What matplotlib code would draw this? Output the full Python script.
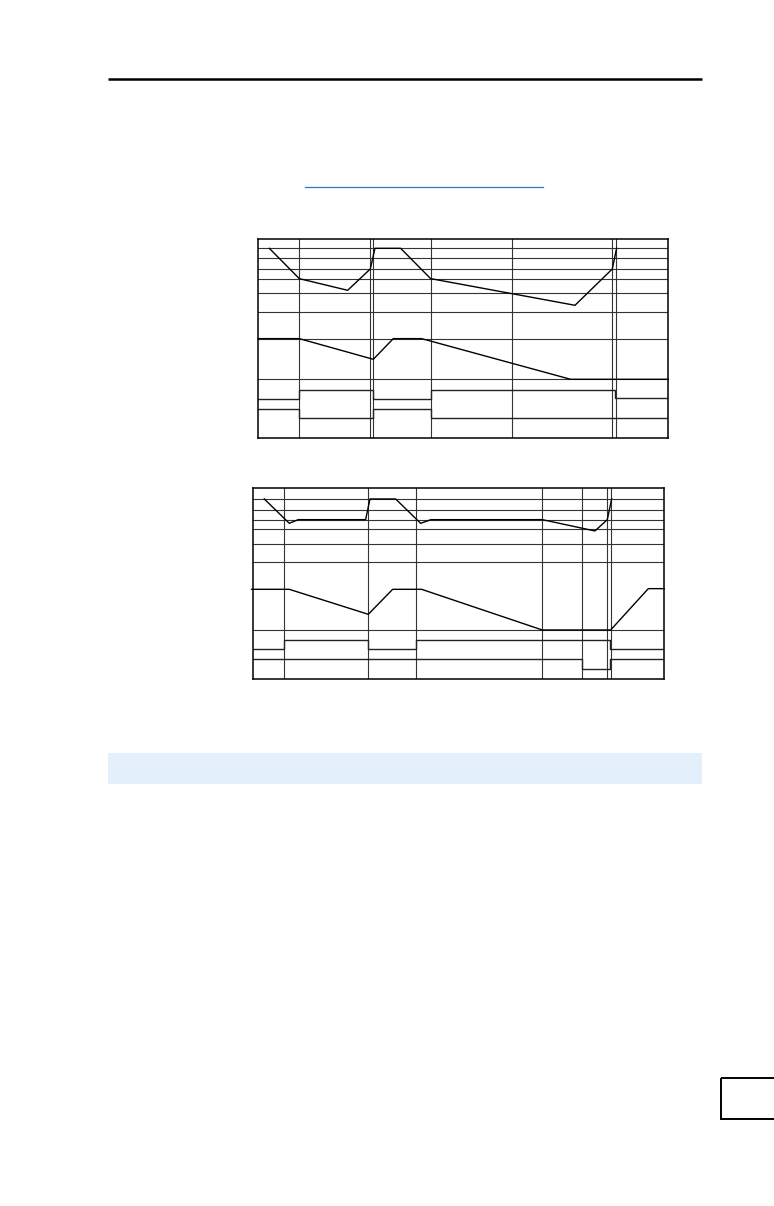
import matplotlib
matplotlib.use('Agg')
import matplotlib.pyplot as plt
from matplotlib.patches import Rectangle

# --- page size (pixels) ---
W, H = 774, 1206

# --- chart 1 : timing diagram (time units / level units) ---
c1_hgrid = [55, 85, 117, 148, 190, 245, 326, 448]
c1_vgrid = [148, 361, 370, 542, 785, 1087, 1097]
c1_wave_a_t = [58, 148, 293, 361, 375, 452, 542, 975, 1087, 1100]
c1_wave_a_v = [55, 146, 181, 117, 55, 55, 146, 226, 117, 55]
c1_wave_b_t = [25, 148, 370, 430, 515, 962, 1255]
c1_wave_b_v = [326, 326, 388, 326, 326, 448, 448]
c1_step_c_t = [25, 148, 368, 542, 1095, 1255]
c1_step_c_v = [508, 480, 508, 480, 505]
c1_step_d_t = [25, 148, 368, 542, 1255]
c1_step_d_v = [537, 565, 537, 565]

# --- chart 2 ---
c2_hgrid = [57, 90, 119, 147, 192, 245, 450]
c2_vgrid = [118, 370, 514, 892, 1012, 1087, 1097]
c2_wave_a_t = [58, 133, 160, 362, 375, 452, 527, 558, 892, 1050, 1087, 1100]
c2_wave_a_v = [57, 130, 119, 119, 57, 57, 130, 119, 119, 153, 119, 57]
c2_wave_b_t = [20, 133, 370, 443, 530, 892, 1097, 1210, 1258]
c2_wave_b_v = [328, 328, 403, 328, 328, 450, 450, 326, 326]
c2_step_c_t = [25, 118, 370, 514, 1095, 1258]
c2_step_c_v = [507, 480, 507, 480, 507]
c2_step_d_t = [25, 1012, 1095, 1258]
c2_step_d_v = [537, 567, 537]

fig = plt.figure(figsize=(W / 100, H / 100), dpi=100)

# page layer in pixel coordinates
page = fig.add_axes([0, 0, 1, 1])
page.set_xlim(0, W)
page.set_ylim(H, 0)
page.axis('off')

page.plot([108, 702], [79, 79], color='black', lw=1.8, solid_capstyle='butt')
page.plot([305, 543], [187, 187], color='#2a78c8', lw=0.9)
page.add_patch(Rectangle((108, 753), 594, 31, facecolor='#e4effc', edgecolor='none'))
page.add_patch(Rectangle((720.5, 1077.5), 60, 41, facecolor='none', edgecolor='black', lw=1.4))


def chart(rect_px, xlim, ylim, hgrid, vgrid, waves, steps):
    left, top, right, bottom = rect_px
    ax = fig.add_axes([left / W, 1 - bottom / H, (right - left) / W, (bottom - top) / H])
    ax.set_xlim(*xlim)
    ax.set_ylim(*ylim)
    ax.set_xticks([])
    ax.set_yticks([])
    for s in ax.spines.values():
        s.set_linewidth(1.1)
        s.set_color('black')
    for y in hgrid:
        ax.axhline(y, color='#333333', lw=0.8)
    for x in vgrid:
        ax.axvline(x, color='#333333', lw=0.8)
    for t, v in waves:
        ax.plot(t, v, color='black', lw=1.0, clip_on=False)
    for t, v in steps:
        ax.plot(t, v + [v[-1]], drawstyle='steps-post', color='#222222', lw=1.0)
    return ax


chart((258.3, 239.3, 668.3, 438.3), (25, 1255), (625, 28),
      c1_hgrid, c1_vgrid,
      [(c1_wave_a_t, c1_wave_a_v), (c1_wave_b_t, c1_wave_b_v)],
      [(c1_step_c_t, c1_step_c_v), (c1_step_d_t, c1_step_d_v)])

chart((253.3, 488.3, 664.3, 679.0), (25, 1258), (597, 25),
      c2_hgrid, c2_vgrid,
      [(c2_wave_a_t, c2_wave_a_v), (c2_wave_b_t, c2_wave_b_v)],
      [(c2_step_c_t, c2_step_c_v), (c2_step_d_t, c2_step_d_v)])

fig.savefig('out.png', dpi=100)
